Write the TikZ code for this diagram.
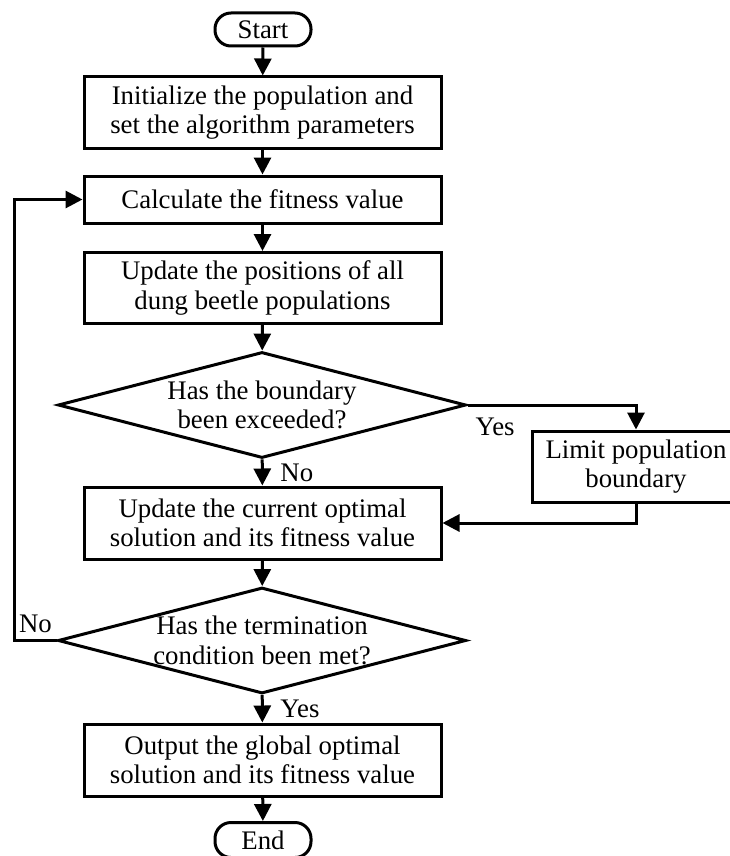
\documentclass[tikz,border=0pt]{standalone}
\usepackage{fontspec}
\setmainfont{Liberation Serif}
\usetikzlibrary{arrows.meta,shapes.geometric}

\begin{document}
\begin{tikzpicture}[x=0.5pt,y=-0.5pt,line width=1.5pt,
            >={Triangle[length=8.5pt,width=8.5pt]},
            font=\fontsize{13.4}{14.8}\selectfont]
        \tikzstyle{terminal}=[draw,rounded corners=8pt,minimum width=48pt,minimum height=16.5pt,inner sep=0pt]
        \tikzstyle{process}=[draw,align=center,minimum width=178.5pt,minimum height=35.5pt,inner sep=0pt]
        \tikzstyle{decision}=[draw,diamond,minimum width=204pt,minimum height=53pt,inner sep=0pt]
        \useasboundingbox (0,0) rectangle (729,856);

        \node[terminal] (start) at (263,29.5) {Start};
        \node[process] (init) at (262.5,112.5) {Initialize the population and\\set the algorithm parameters};
        \node[process, minimum height=23.5pt] (fit) at (262.5,199.5) {Calculate the fitness value};
        \node[process] (update) at (262.5,288) {Update the positions of all\\dung beetle populations};
        \node[decision] (exceed) at (262,405) {};
        \node[align=center] (exceedtxt) at (exceed) {Has the boundary\\been exceeded?};
        \node[process, minimum width=104pt] (limit) at (636,466.5) {Limit population\\boundary};
        \node[process, minimum height=36pt] (optimal) at (262.5,523) {Update the current optimal\\solution and its fitness value};
        \node[decision] (term) at (262,640.5) {};
        \node[align=center] (termtxt) at (term) {Has the termination\\condition been met?};
        \node[process, minimum height=36pt] (output) at (262.5,760) {Output the global optimal\\solution and its fitness value};
        \node[terminal, minimum height=17.5pt] (end) at (263,840) {End};

        \draw[->] (start) -- (init);
        \draw[->] (init) -- (fit);
        \draw[->] (fit) -- (update);
        \draw[->] (update) -- (exceed);
        \draw[->] (exceed) -- node[right=5pt] {No} (optimal);
        \draw[->] (exceed.east) -| node[pos=0,anchor=north west,yshift=-2.5pt] {Yes} (limit.north);
        \draw[->] (limit.south) |- (optimal.east);
        \draw[->] (optimal) -- (term);
        \draw[->] (term.west) -- node[above] {No} ++(-42,0) |- (fit.west);
        \draw[->] (term) -- node[right=5pt] {Yes} (output);
        \draw[->] (output) -- (end);
    \end{tikzpicture}
\end{document}
